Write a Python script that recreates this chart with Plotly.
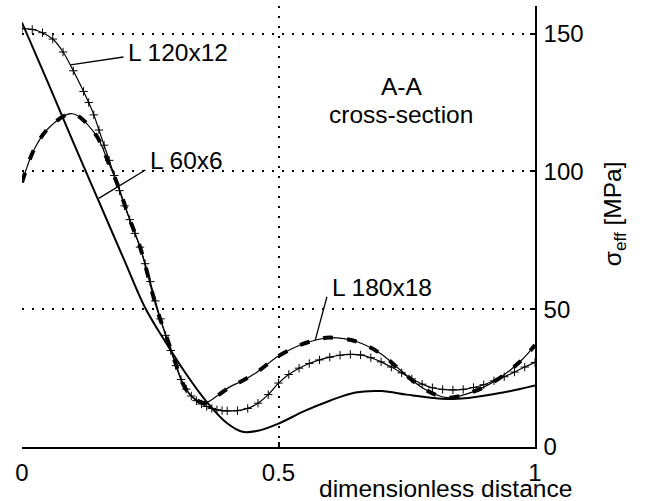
import plotly.graph_objects as go

# Effective stress along the A-A cross-section for three angle profiles
x_60 = [0, 0.05, 0.10, 0.15, 0.20, 0.24, 0.28, 0.32, 0.36, 0.40, 0.43, 0.46, 0.50,
        0.55, 0.60, 0.65, 0.70, 0.75, 0.80, 0.83, 0.87, 0.90, 0.95, 1.00]
s_60 = [154, 132.5, 110.5, 89, 67.5, 50.5, 38, 26.5, 16.4, 8.6, 5.5, 5.9, 8.5,
        13, 16.8, 19.8, 20.3, 19, 17.8, 17.4, 17.8, 18.6, 20.2, 22.3]

x_120 = [0, 0.02, 0.04, 0.06, 0.08, 0.10, 0.12, 0.13, 0.14, 0.15, 0.16, 0.17,
         0.18, 0.19, 0.20, 0.21, 0.22, 0.23, 0.24, 0.25, 0.26, 0.27, 0.28, 0.29,
         0.30, 0.31, 0.32, 0.33, 0.34, 0.35, 0.36, 0.37, 0.38, 0.39, 0.40, 0.42,
         0.44, 0.46, 0.48, 0.50, 0.52, 0.54, 0.56, 0.58, 0.60, 0.62, 0.64, 0.66,
         0.68, 0.70, 0.72, 0.74, 0.76, 0.78, 0.80, 0.82, 0.84, 0.86, 0.88, 0.90,
         0.92, 0.94, 0.96, 0.98, 1.00]
s_120 = [151.8, 151.5, 150.3, 148, 143.3, 136.5, 129, 125, 120.5, 115, 109.5, 104,
         98.5, 93, 87.5, 82.5, 77.5, 72.5, 66.5, 60, 53, 46.5, 40.5, 35,
         29.5, 24.5, 21, 18.5, 16.8, 15.6, 14.7, 14, 13.5, 13.2, 13.1, 13.2,
         14, 15.9, 19, 23.2, 26.3, 28.6, 30.3, 31.6, 32.6, 33.3, 33.6, 33.4,
         32.4, 30.9, 29, 26.9, 24.7, 22.8, 21.5, 20.9, 20.7, 20.9, 21.6, 22.6,
         24, 25.5, 27.2, 29, 30.7]

x_180 = [0, 0.025, 0.055, 0.098, 0.143, 0.169, 0.189, 0.208, 0.231, 0.263, 0.286,
         0.300, 0.315, 0.330, 0.355, 0.380, 0.406, 0.426, 0.455, 0.500, 0.542, 0.575,
         0.600, 0.653, 0.698, 0.737, 0.782, 0.828, 0.880, 0.925, 0.971, 1.000]
s_180 = [96, 108.5, 116.3, 120.9, 113.5, 103, 93.9, 83.6, 72, 50, 37.7,
         30, 22.5, 18.5, 16, 18.5, 21.9, 23.7, 26.8, 33, 37, 38.9,
         39.7, 38.2, 34, 28, 21.3, 17.9, 20.1, 24.3, 31, 37]

x_ticks = [0, 0.5, 1]
x_tick_text = ["0", "0.5", "1"]
y_ticks = [0, 50, 100, 150]

FONT = "Liberation Sans, Arial, sans-serif"
INK = "black"

fig = go.Figure()

# L 60x6: plain solid line
fig.add_trace(go.Scatter(x=x_60, y=s_60, mode="lines",
                         line=dict(color=INK, width=2, shape="spline"),
                         showlegend=False, hoverinfo="skip"))

# L 120x12: thin line with '+' marks
fig.add_trace(go.Scatter(x=x_120, y=s_120, mode="lines+markers",
                         line=dict(color=INK, width=1.2, shape="spline"),
                         marker=dict(symbol="cross-thin-open", size=6,
                                     line=dict(color=INK, width=1)),
                         showlegend=False, hoverinfo="skip"))

# L 180x18: thin line overlaid with heavy dashes
fig.add_trace(go.Scatter(x=x_180, y=s_180, mode="lines",
                         line=dict(color=INK, width=1.2, shape="spline"),
                         showlegend=False, hoverinfo="skip"))
fig.add_trace(go.Scatter(x=x_180, y=s_180, mode="lines",
                         line=dict(color=INK, width=4, shape="spline", dash="10px,14px"),
                         showlegend=False, hoverinfo="skip"))

# Leader lines from curves to their labels
leaders = [
    ((0.0944, 138.6), (0.1977, 141.5)),
    ((0.1496, 90.2), (0.2405, 100.5)),
    ((0.5716, 38.8), (0.5944, 54.5)),
]
for (xa, ya), (xb, yb) in leaders:
    fig.add_shape(type="line", x0=xa, y0=ya, x1=xb, y1=yb, xref="x", yref="y",
                  line=dict(color=INK, width=1.3))

labels = [
    ("L 120x12", 0.2035, 143.3, "left"),
    ("L 60x6", 0.245, 104.1, "left"),
    ("L 180x18", 0.6005, 57.7, "left"),
    ("A-A", 0.7404, 130.7, "center"),
    ("cross-section", 0.7396, 120.5, "center"),
]
for text, lx, ly, anchor in labels:
    fig.add_annotation(text=text, x=lx, y=ly, xref="x", yref="y",
                       xanchor=anchor, yanchor="middle", showarrow=False,
                       font=dict(family=FONT, size=24.5, color=INK))

# Axis titles
fig.add_annotation(text="dimensionless distance", x=0.8257, y=-0.094,
                   xref="paper", yref="paper", xanchor="center", yanchor="middle",
                   showarrow=False, font=dict(family=FONT, size=24.5, color=INK))
fig.add_annotation(text="σ<sub>eff</sub> [MPa]", x=1.154, y=0.528,
                   xref="paper", yref="paper", xanchor="center", yanchor="middle",
                   textangle=-90, showarrow=False,
                   font=dict(family=FONT, size=24.5, color=INK))

grid = dict(showgrid=True, gridcolor=INK, gridwidth=1.5, griddash="2px,8px")

fig.update_xaxes(range=[0, 1], tickvals=x_ticks, ticktext=x_tick_text,
                 showline=True, linecolor=INK, linewidth=1.6,
                 ticks="inside", ticklen=5, tickwidth=1.5, tickcolor=INK,
                 ticklabelstandoff=3,
                 zeroline=False, tickfont=dict(family=FONT, size=24, color=INK),
                 **grid)
fig.update_yaxes(range=[0, 160], tickvals=y_ticks, side="right",
                 showline=True, linecolor=INK, linewidth=1.6,
                 ticks="inside", ticklen=5, tickwidth=1.5, tickcolor=INK,
                 ticklabelstandoff=2,
                 zeroline=False, tickfont=dict(family=FONT, size=24, color=INK),
                 **grid)

fig.update_layout(width=645, height=501,
                  margin=dict(l=22, r=110, t=6, b=54, pad=0),
                  paper_bgcolor="white", plot_bgcolor="white",
                  font=dict(family=FONT, color=INK))

fig.write_html("out.html")
